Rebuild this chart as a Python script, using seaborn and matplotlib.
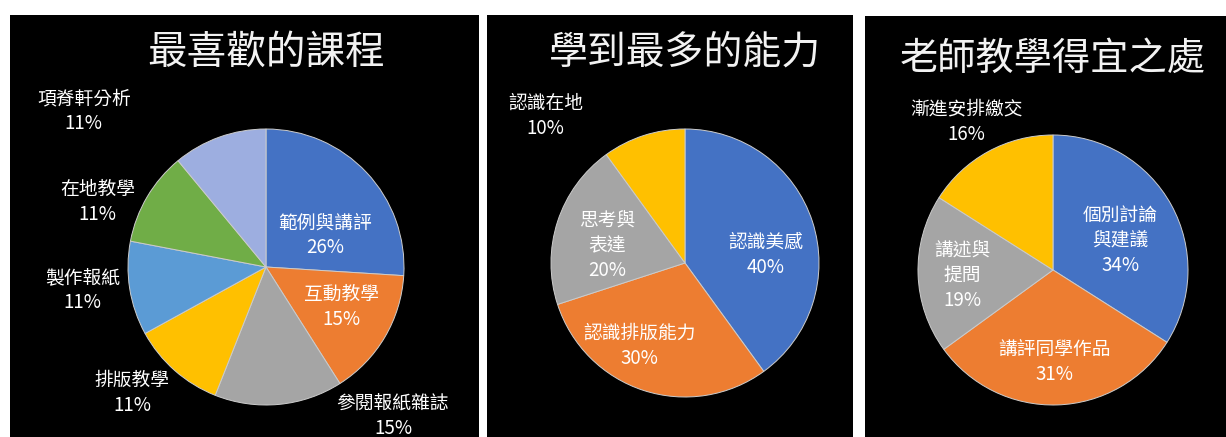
import matplotlib
matplotlib.use("Agg")
import matplotlib.pyplot as plt
import seaborn as sns

# chart 1
fav_titles = "最喜歡的課程"
fav_labels = ["範例與講評", "互動教學", "參閱報紙雜誌", "排版教學", "製作報紙", "在地教學", "項脊軒分析"]
fav_values = [26, 15, 15, 11, 11, 11, 11]

# chart 2
ability_title = "學到最多的能力"
ability_labels = ["認識美感", "認識排版能力", "思考與\n表達", "認識在地"]
ability_values = [40, 30, 20, 10]

# chart 3
teach_title = "老師教學得宜之處"
teach_labels = ["個別討論\n與建議", "講評同學作品", "講述與\n提問", "漸進安排繳交"]
teach_values = [34, 31, 19, 16]

office = ["#4472C4", "#ED7D31", "#A5A5A5", "#FFC000", "#5B9BD5", "#70AD47", "#9DAEE0"]

sns.set_style("white")
plt.rcParams['font.family'] = ['Noto Sans CJK TC', 'DejaVu Sans']

W, H = 1226, 437
fig = plt.figure(figsize=(W / 100, H / 100), dpi=100)
fig.patch.set_facecolor("white")

# panel boxes (pixels): x0, x1, top ; pie centre & radius ; title y ; label offsets in radius units
panels = [
    dict(box=(10, 479, 15), cx=266, cy=267, r=138, ty=53, tsize=28.5,
         title=fav_titles, labels=fav_labels, values=fav_values,
         offs=[(0.43, 0.23), (0.55, -0.29), (0.92, -1.08), (-0.97, -0.91),
               (-1.33, -0.17), (-1.22, 0.47), (-1.32, 1.13)]),
    dict(box=(487, 853, 15), cx=685, cy=263, r=134, ty=53, tsize=28,
         title=ability_title, labels=ability_labels, values=ability_values,
         offs=[(0.60, 0.06), (-0.34, -0.62), (-0.58, 0.13), (-1.04, 1.10)]),
    dict(box=(865, 1226, 16), cx=1053, cy=270, r=135, ty=59, tsize=27.5,
         title=teach_title, labels=teach_labels, values=teach_values,
         offs=[(0.50, 0.22), (0.01, -0.68), (-0.67, -0.04), (-0.64, 1.10)]),
]

for p in panels:
    x0, x1, top = p["box"]
    ax = fig.add_axes([x0 / W, 0, (x1 - x0) / W, (H - top) / H])
    ax.set_facecolor("black")
    cx, cy = p["cx"], H - p["cy"]
    ax.pie(p["values"], colors=office[:len(p["values"])], startangle=90,
           counterclock=False, center=(cx, cy), radius=p["r"], frame=True,
           wedgeprops=dict(edgecolor="#cccccc", linewidth=0.7))
    ax.set_xlim(x0, x1)
    ax.set_ylim(0, H - top)
    ax.set_aspect("equal")
    ax.set_xticks([])
    ax.set_yticks([])
    for s in ax.spines.values():
        s.set_visible(False)
    ax.text(cx, H - p["ty"], p["title"], color="#f2f2f2",
            fontsize=p["tsize"], ha="center", va="center")
    for lab, val, (dx, dy) in zip(p["labels"], p["values"], p["offs"]):
        ax.text(cx + dx * p["r"], cy + dy * p["r"], f"{lab}\n{val}%",
                color="white", fontsize=13.5, ha="center", va="center",
                linespacing=1.25)

fig.savefig("out.png", dpi=100, facecolor="white")
